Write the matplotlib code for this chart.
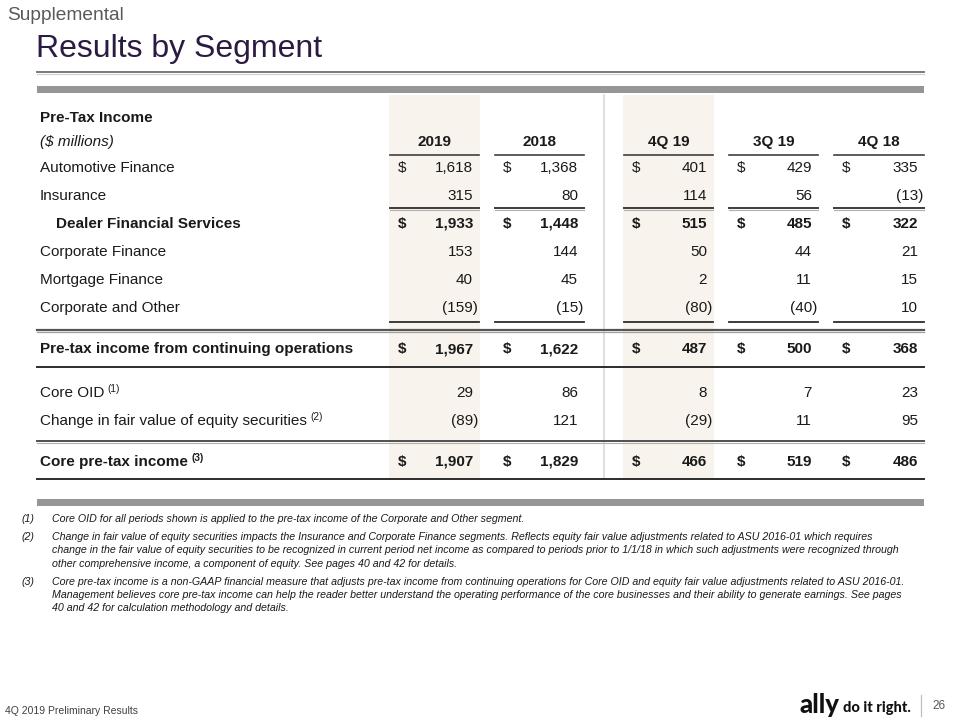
import matplotlib
matplotlib.use("Agg")
import matplotlib.pyplot as plt
from matplotlib.patches import Rectangle

plt.rcParams['font.family'] = ['Liberation Sans', 'DejaVu Sans']

# ---------------- data ----------------
columns = ["2019", "2018", "4Q 19", "3Q 19", "4Q 18"]
automotive_finance = [1618, 1368, 401, 429, 335]
insurance = [315, 80, 114, 56, -13]
dealer_financial_services = [1933, 1448, 515, 485, 322]
corporate_finance = [153, 144, 50, 44, 21]
mortgage_finance = [40, 45, 2, 11, 15]
corporate_and_other = [-159, -15, -80, -40, 10]
pretax_continuing = [1967, 1622, 487, 500, 368]
core_oid = [29, 86, 8, 7, 23]
fair_value_equity = [-89, 121, -29, 11, 95]
core_pretax_income = [1907, 1829, 466, 519, 486]

footnotes = [
    ("(1)", ["Core OID for all periods shown is applied to the pre-tax income of the Corporate and Other segment."]),
    ("(2)", ["Change in fair value of equity securities impacts the Insurance and Corporate Finance segments. Reflects equity fair value adjustments related to ASU 2016-01 which requires",
             "change in the fair value of equity securities to be recognized in current period net income as compared to periods prior to 1/1/18 in which such adjustments were recognized through",
             "other comprehensive income, a component of equity. See pages 40 and 42 for details."]),
    ("(3)", ["Core pre-tax income is a non-GAAP financial measure that adjusts pre-tax income from continuing operations for Core OID and equity fair value adjustments related to ASU 2016-01.",
             "Management believes core pre-tax income can help the reader better understand the operating performance of the core businesses and their ability to generate earnings. See pages",
             "40 and 42 for calculation methodology and details."]),
]

# rows: (label, values, bold, dollar, indent, superscript, y)
rows = [
    ("Automotive Finance", automotive_finance, False, True, 0, None, 167),
    ("Insurance", insurance, False, False, 0, None, 195),
    ("Dealer Financial Services", dealer_financial_services, True, True, 16, None, 223),
    ("Corporate Finance", corporate_finance, False, False, 0, None, 251),
    ("Mortgage Finance", mortgage_finance, False, False, 0, None, 279),
    ("Corporate and Other", corporate_and_other, False, False, 0, None, 307),
    ("Pre-tax income from continuing operations", pretax_continuing, True, True, 0, None, 348),
    ("Core OID", core_oid, False, False, 0, "(1)", 392),
    ("Change in fair value of equity securities", fair_value_equity, False, False, 0, "(2)", 420),
    ("Core pre-tax income", core_pretax_income, True, True, 0, "(3)", 461),
]

# ---------------- layout ----------------
W, H = 960, 720
fig = plt.figure(figsize=(9.6, 7.2), dpi=100)
ax = fig.add_axes([0, 0, 1, 1])
ax.set_xlim(0, W)
ax.set_ylim(H, 0)
ax.axis('off')

col_left = [390, 495, 624, 729, 834]
col_right = [479, 584, 713, 818, 924]
shaded = [0, 2]
shade_color = '#F8F3EC'
fs = 11
dark = '#1a1a1a'
TABLE_L, TABLE_R = 37, 924

# shading
for i in shaded:
    ax.add_patch(Rectangle((col_left[i] - 1, 95), col_right[i] - col_left[i] + 2, 383,
                           facecolor=shade_color, edgecolor='none', zorder=0))
# vertical separator
ax.plot([604, 604], [95, 478], color='#d9d9d9', lw=1.2, zorder=1)

# title
ax.text(7, 15, "Supplemental", fontsize=13.8, color='#595959', va='center', ha='left')
ax.text(36, 49, "Results by Segment", fontsize=23, color='#2B1B42', va='center', ha='left')
ax.plot([TABLE_L, TABLE_R], [72, 72], color='#6e6e6e', lw=1.3, zorder=2)
ax.plot([TABLE_L, TABLE_R], [73.5, 73.5], color='#d0d0d0', lw=0.8, zorder=1)
ax.add_patch(Rectangle((TABLE_L, 86), TABLE_R - TABLE_L, 7, facecolor='#969696', edgecolor='none'))
ax.add_patch(Rectangle((TABLE_L, 499), TABLE_R - TABLE_L, 7, facecolor='#969696', edgecolor='none'))

# header
ax.text(40, 122, "Pre-Tax Income", fontsize=fs, fontweight='bold', color=dark, va='baseline')
ax.text(40, 146, "($ millions)", fontsize=fs, fontstyle='italic', color=dark, va='baseline')
for i, c in enumerate(columns):
    ax.text((col_left[i] + col_right[i]) / 2, 146, c, fontsize=fs, fontweight='bold',
            color=dark, ha='center', va='baseline')
    ax.plot([col_left[i], col_right[i]], [155, 155], color='#404040', lw=1.2)


def fmt(v):
    s = f"{abs(v):,}"
    return f"({s})" if v < 0 else s


for label, vals, bold, dollar, indent, sup, y in rows:
    fw = 'bold' if bold else 'normal'
    t = ax.text(40 + indent, y + 5, label, fontsize=fs, fontweight=fw, color=dark, va='baseline')
    if sup:
        ax.annotate(sup, xy=(1, 1), xycoords=t, xytext=(2.5, 1.5), textcoords='offset points',
                    fontsize=7.2, fontweight=fw, color=dark, va='top', ha='left')
    for i, v in enumerate(vals):
        xr = col_right[i] - 6 if v >= 0 else col_right[i] - 1
        ax.text(xr, y + 5, fmt(v), fontsize=fs, fontweight=fw, color=dark, ha='right', va='baseline')
        if dollar:
            ax.text(col_left[i] + 8, y + 5, "$", fontsize=fs, fontweight=fw, color=dark,
                    ha='left', va='baseline')

# column underlines
for i in range(5):
    ax.plot([col_left[i], col_right[i]], [208, 208], color='#3c3c3c', lw=1.4)
    ax.plot([col_left[i], col_right[i]], [209.8, 209.8], color='#b0b0b0', lw=0.8)
    ax.plot([col_left[i], col_right[i]], [322, 322], color='#2c2c2c', lw=1.3)

# full-width rules
ax.plot([TABLE_L, TABLE_R], [330, 330], color='#555555', lw=1.6)
ax.plot([TABLE_L, TABLE_R], [331.8, 331.8], color='#a0a0a0', lw=0.9)
ax.plot([TABLE_L, TABLE_R], [367, 367], color='#2c2c2c', lw=1.4)
ax.plot([TABLE_L, TABLE_R], [441, 441], color='#505050', lw=1.4)
ax.plot([TABLE_L, TABLE_R], [442.8, 442.8], color='#b0b0b0', lw=0.8)
ax.plot([TABLE_L, TABLE_R], [479, 479], color='#2c2c2c', lw=1.4)

# footnotes
fy = 519
for num, lines in footnotes:
    for j, line in enumerate(lines):
        if j == 0:
            ax.text(22, fy, num, fontsize=7.7, fontstyle='italic', color=dark, va='center')
        ax.text(52, fy, line, fontsize=7.7, fontstyle='italic', color=dark, va='center')
        fy += 13.3
    fy += 4.7

# footer
ax.text(5, 711, "4Q 2019 Preliminary Results", fontsize=7.5, color='#404040', va='center')
ax.text(799, 713, "ally", fontsize=18.5, fontweight='black', color='#111111', va='baseline',
        family=['Lato', 'DejaVu Sans'])
ax.text(843, 712, "do it right.", fontsize=10.5, fontweight='black', color='#111111', va='baseline',
        family=['Lato', 'DejaVu Sans'])
ax.plot([921, 921], [695, 716], color='#bfbfbf', lw=0.9)
ax.text(939, 706, "26", fontsize=8.5, color='#595959', va='center', ha='center')

fig.savefig("out.png", dpi=100)
